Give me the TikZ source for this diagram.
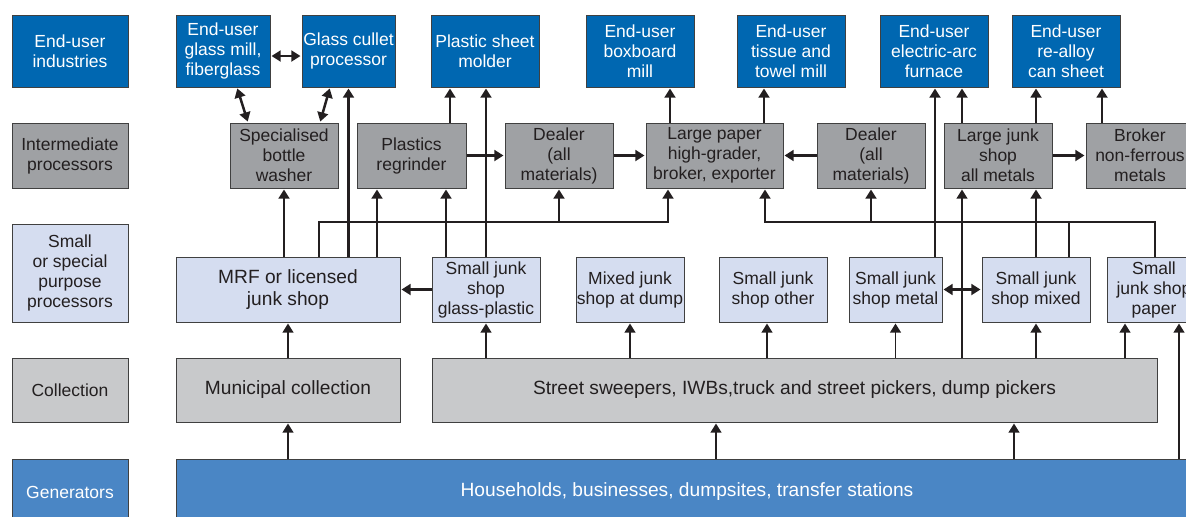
\documentclass[tikz,border=0pt]{standalone}
\usepackage{fontspec}
\setmainfont{Liberation Sans}
\usetikzlibrary{arrows.meta}

\definecolor{enduserblue}{RGB}{0,103,177}
\definecolor{procgray}{RGB}{159,161,164}
\definecolor{smallblue}{RGB}{213,221,240}
\definecolor{collgray}{RGB}{200,201,203}
\definecolor{genblue}{RGB}{74,134,197}
\definecolor{linkblack}{RGB}{35,31,32}

\tikzset{
  box/.style={draw=black!75, line width=0.6pt, align=center, inner sep=0pt,
    text=linkblack, font=\fontsize{10.5}{12}\selectfont},
  enduserbox/.style={box, fill=enduserblue, text=white, minimum height=43.2pt},
  procbox/.style={box, fill=procgray, minimum height=39pt},
  smallbox/.style={box, fill=smallblue, minimum height=39pt},
  collbox/.style={box, fill=collgray, minimum height=38.4pt},
  genbox/.style={box, fill=genblue, text=white, minimum height=39.6pt},
  widetext/.style={font=\fontsize{11.5}{13}\selectfont},
  arr/.style={-{Triangle[width=6.5pt,length=5.5pt]}, shorten >=0.6pt, line width=1.5pt, color=linkblack},
  darr/.style={{Triangle[width=6.5pt,length=5.5pt]}-{Triangle[width=6.5pt,length=5.5pt]}, shorten >=0.6pt, shorten <=0.6pt, line width=1.5pt, color=linkblack},
  thinarr/.style={arr, line width=1.1pt},
  wire/.style={line width=1.4pt, color=linkblack}
}

\begin{document}
\begin{tikzpicture}[x=0.6pt, y=-0.6pt]
    \clip (0,0) rectangle (1186,516);

    % legend column
    \node[enduserbox, minimum width=69.6pt] (lend) at (70,51) {End-user\\industries};
    \node[procbox, minimum width=69.6pt] (lproc) at (70,155.5) {Intermediate\\processors};
    \node[smallbox, minimum width=69.6pt, minimum height=58.8pt] (lsmall) at (70,273) {Small\\or special\\purpose\\processors};
    \node[collbox, minimum width=69.6pt] (lcoll) at (70,390) {Collection};
    \node[genbox, minimum width=69.6pt] (lgen) at (70,492) {Generators};

    % end-user industries
    \node[enduserbox, minimum width=56.4pt] (glassmill) at (223,51) {End-user\\glass mill,\\fiberglass};
    \node[enduserbox, minimum width=55.8pt] (cullet) at (348.5,51) {Glass cullet\\processor};
    \node[enduserbox, minimum width=64.8pt] (molder) at (485,51) {Plastic sheet\\molder};
    \node[enduserbox, minimum width=64.8pt] (boxboard) at (640,51) {End-user\\boxboard\\mill};
    \node[enduserbox, minimum width=64.8pt] (tissue) at (791,51) {End-user\\tissue and\\towel mill};
    \node[enduserbox, minimum width=64.8pt] (furnace) at (934,51) {End-user\\electric-arc\\furnace};
    \node[enduserbox, minimum width=64.8pt] (realloy) at (1066,51) {End-user\\re-alloy\\can sheet};

    % intermediate processors
    \node[procbox, minimum width=64.8pt] (washer) at (284,155.5) {Specialised\\bottle\\washer};
    \node[procbox, minimum width=65.4pt] (regrinder) at (411.5,155.5) {Plastics\\regrinder};
    \node[procbox, minimum width=64.8pt] (dealera) at (559,155.5) {Dealer\\(all\\materials)};
    \node[procbox, minimum width=82.2pt] (hipaper) at (714.5,155.5) {Large paper\\high-grader,\\broker, exporter};
    \node[procbox, minimum width=64.8pt] (dealerb) at (871,155.5) {Dealer\\(all\\materials)};
    \node[procbox, minimum width=64.8pt] (junkall) at (998,155.5) {Large junk\\shop\\all metals};
    \node[procbox, minimum width=64.8pt] (broker) at (1140,155.5) {Broker\\non-ferrous\\metals};

    % small or special purpose processors
    \node[smallbox, widetext, minimum width=134.4pt] (mrf) at (288,289.5) {MRF or licensed\\junk shop};
    \node[smallbox, minimum width=64.8pt] (smglass) at (486,289.5) {Small junk\\shop\\glass-plastic};
    \node[smallbox, minimum width=64.8pt] (dump) at (630,289.5) {Mixed junk\\shop at dump};
    \node[smallbox, minimum width=64.8pt] (other) at (773,289.5) {Small junk\\shop other};
    \node[smallbox, minimum width=55.8pt] (metal) at (895.5,289.5) {Small junk\\shop metal};
    \node[smallbox, minimum width=64.8pt] (mixed) at (1036,289.5) {Small junk\\shop mixed};
    \node[smallbox, minimum width=56.4pt] (papershop) at (1154,289.5) {Small\\junk shop\\paper};

    % collection and generators
    \node[collbox, widetext, minimum width=134.4pt] (municipal) at (288,390) {Municipal collection};
    \node[collbox, widetext, minimum width=435pt] (street) at (794.5,390) {Street sweepers, IWBs,truck and street pickers, dump pickers};
    \node[genbox, widetext, minimum width=613.2pt] (gen) at (687,492) {Households, businesses, dumpsites, transfer stations};

    % two-way links
    \path[darr]
    ([yshift=-3pt]glassmill.east) edge ([yshift=-3pt]cullet.west)
    (glassmill.south -| 237,0) edge (washer.north -| 248,0)
    (cullet.south -| 330,0) edge (washer.north -| 320,0)
    (metal.east) edge (mixed.west);

    % into end-user industries
    \path[arr]
    (regrinder.north -| 450,0) edge (molder.south -| 450,0)
    (hipaper.north -| 670,0) edge (boxboard.south -| 670,0)
    (hipaper.north -| 764,0) edge (tissue.south -| 764,0)
    (junkall.north -| 962,0) edge (furnace.south -| 962,0)
    (junkall.north -| 1036,0) edge (realloy.south -| 1036,0)
    (broker.north -| 1102,0) edge (realloy.south -| 1102,0)
    (regrinder.east) edge (dealera.west)
    (dealera.east) edge (hipaper.west)
    (dealerb.west) edge (hipaper.east)
    (junkall.east) edge (broker.west)
    (mrf.north -| washer) edge (washer.south)
    (mrf.north -| cullet) edge (cullet.south)
    (mrf.north -| 377,0) edge (regrinder.south -| 377,0)
    (smglass.north -| 446,0) edge (regrinder.south -| 446,0)
    (smglass.north) edge (molder.south -| smglass)
    (metal.north -| 935,0) edge (furnace.south -| 935,0)
    (mixed.north) edge (junkall.south -| mixed)
    (smglass.west) edge (mrf.east);

    % collecting lines
    \coordinate (busa) at (319,222);
    \coordinate (busb) at (668,222);
    \coordinate (busc) at (765,222);
    \coordinate (busd) at (1155,222);
    \draw[arr, line width=1.4pt] (mrf.north -| busa) -- (busa) -- (busb) -- (hipaper.south -| busb);
    \draw[arr, line width=1.4pt] (dealera |- busa) -- (dealera.south);
    \draw[arr, line width=1.4pt] (papershop.north -| busd) -- (busd) -- (busc) -- (hipaper.south -| busc);
    \draw[wire] (mixed.north -| 1069,0) -- (busd -| 1069,0);
    \draw[arr, line width=1.4pt] (dealerb |- busc) -- (dealerb.south);

    % from collection and generators
    \path[thinarr]
    (municipal.north) edge (mrf.south)
    (street.north -| smglass) edge (smglass.south)
    (street.north -| dump) edge (dump.south)
    (street.north -| 767,0) edge (other.south -| 767,0)
    (street.north -| metal) edge (metal.south)
    (street.north -| 962,0) edge (junkall.south -| 962,0)
    (street.north -| mixed) edge (mixed.south)
    (street.north -| 1125,0) edge (papershop.south -| 1125,0)
    (gen.north -| 1179,0) edge (papershop.south -| 1179,0)
    (gen.north -| municipal) edge (municipal.south)
    (gen.north -| 716,0) edge (street.south -| 716,0)
    (gen.north -| 1014,0) edge (street.south -| 1014,0);
\end{tikzpicture}
\end{document}
